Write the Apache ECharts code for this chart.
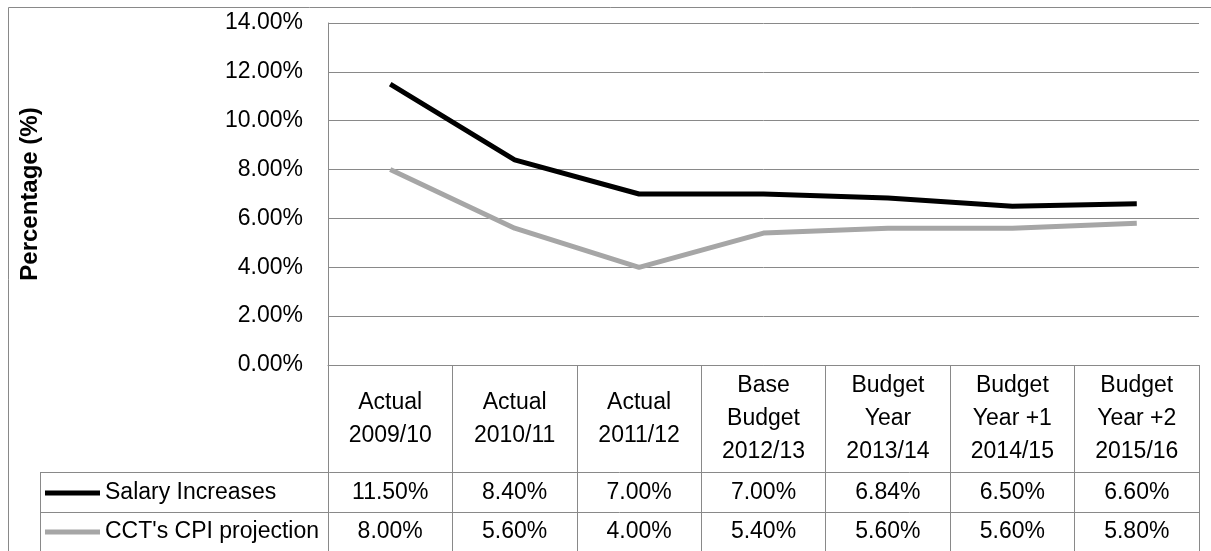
<!DOCTYPE html>
<html>
<head>
<meta charset="utf-8">
<script src="https://cdn.jsdelivr.net/npm/echarts@6/dist/echarts.min.js"></script>
<style>
html,body{margin:0;padding:0;background:#fff;}
#chart{width:1211px;height:551px;}
</style>
</head>
<body>
<div id="chart"></div>
<script>
// ---- data ----
const categories = ['Actual\n2009/10', 'Actual\n2010/11', 'Actual\n2011/12', 'Base\nBudget\n2012/13', 'Budget\nYear\n2013/14', 'Budget\nYear +1\n2014/15', 'Budget\nYear +2\n2015/16'];
const salaryIncreases = [11.50, 8.40, 7.00, 7.00, 6.84, 6.50, 6.60];
const cpiProjection = [8.00, 5.60, 4.00, 5.40, 5.60, 5.60, 5.80];
const seriesNames = ['Salary Increases', "CCT's CPI projection"];
const yTicks = { min: 0, max: 14, interval: 2 };
const yAxisTitle = 'Percentage (%)';

// ---- layout ----
const FONT = 'Liberation Sans';
const FS = 23;
const GRID = { left: 328, top: 23, right: 1199, bottom: 365 };
const ROW1_TOP = 472, ROW2_TOP = 512, TABLE_BOTTOM = 551, LEGEND_COL_LEFT = 40;
const LINE_COLOR = '#898989';
const fmt = v => v.toFixed(2) + '%';

const chart = echarts.init(document.getElementById('chart'), null, { renderer: 'canvas' });

const valueAxisCommon = {
  type: 'category',
  gridIndex: 0,
  position: 'bottom',
  boundaryGap: true,
  axisLine: { show: false, onZero: false },
  axisTick: { show: false },
  splitLine: { show: false }
};

const option = {
  backgroundColor: '#ffffff',
  animation: false,
  textStyle: { fontFamily: FONT, color: '#000' },
  grid: {
    left: GRID.left, top: GRID.top,
    right: 1211 - GRID.right, bottom: 551 - GRID.bottom,
    containLabel: false
  },
  legend: {
    orient: 'vertical',
    left: 45,
    top: 480,
    padding: 0,
    width: 280,
    height: 70,
    itemWidth: 55,
    itemHeight: 5,
    itemGap: 13,
    icon: 'rect',
    selectedMode: false,
    data: seriesNames,
    textStyle: { fontFamily: FONT, fontSize: FS, color: '#000', lineHeight: 26 }
  },
  xAxis: [
    {
      type: 'category',
      gridIndex: 0,
      position: 'bottom',
      boundaryGap: true,
      data: categories,
      axisLine: { show: true, onZero: false, lineStyle: { color: LINE_COLOR, width: 1 } },
      axisTick: { show: true, interval: 0, length: TABLE_BOTTOM - GRID.bottom, lineStyle: { color: LINE_COLOR, width: 1 } },
      axisLabel: {
        interval: 0, margin: 54, verticalAlign: 'middle', align: 'center',
        fontFamily: FONT, fontSize: FS, color: '#000', lineHeight: 33
      },
      splitLine: { show: false }
    },
    Object.assign({}, valueAxisCommon, {
      data: salaryIncreases.map(fmt),
      axisLabel: { interval: 0, margin: 128, verticalAlign: 'middle', fontFamily: FONT, fontSize: FS, color: '#000' }
    }),
    Object.assign({}, valueAxisCommon, {
      data: cpiProjection.map(fmt),
      axisLabel: { interval: 0, margin: 167, verticalAlign: 'middle', fontFamily: FONT, fontSize: FS, color: '#000' }
    })
  ],
  yAxis: {
    type: 'value',
    min: yTicks.min, max: yTicks.max, interval: yTicks.interval,
    name: yAxisTitle,
    nameLocation: 'middle',
    nameGap: 286,
    nameRotate: 90,
    nameTextStyle: { fontFamily: FONT, fontSize: 24, fontWeight: 'bold', color: '#000' },
    axisLine: { show: true, lineStyle: { color: LINE_COLOR, width: 1 } },
    axisTick: { show: false },
    axisLabel: { margin: 25, fontFamily: FONT, fontSize: FS, color: '#000', formatter: v => fmt(v) },
    splitLine: { show: true, lineStyle: { color: LINE_COLOR, width: 1 } }
  },
  series: [
    {
      name: seriesNames[0], type: 'line', xAxisIndex: 0, data: salaryIncreases,
      color: '#000000', symbol: 'none', lineStyle: { width: 5, color: '#000000' }, z: 3
    },
    {
      name: seriesNames[1], type: 'line', xAxisIndex: 0, data: cpiProjection,
      color: '#A6A6A6', symbol: 'none', lineStyle: { width: 5, color: '#A6A6A6' }, z: 2
    }
  ],
  graphic: [
    { type: 'rect', shape: { x: 8.5, y: 7.5, width: 1210, height: 600 }, style: { fill: 'none', stroke: LINE_COLOR, lineWidth: 1 }, silent: true },
    { type: 'line', shape: { x1: LEGEND_COL_LEFT, y1: ROW1_TOP + 0.5, x2: GRID.right, y2: ROW1_TOP + 0.5 }, style: { stroke: LINE_COLOR, lineWidth: 1 }, silent: true },
    { type: 'line', shape: { x1: LEGEND_COL_LEFT, y1: ROW2_TOP + 0.5, x2: GRID.right, y2: ROW2_TOP + 0.5 }, style: { stroke: LINE_COLOR, lineWidth: 1 }, silent: true },
    { type: 'line', shape: { x1: LEGEND_COL_LEFT + 0.5, y1: ROW1_TOP, x2: LEGEND_COL_LEFT + 0.5, y2: TABLE_BOTTOM }, style: { stroke: LINE_COLOR, lineWidth: 1 }, silent: true }
  ]
};

chart.setOption(option);
</script>
</body>
</html>
